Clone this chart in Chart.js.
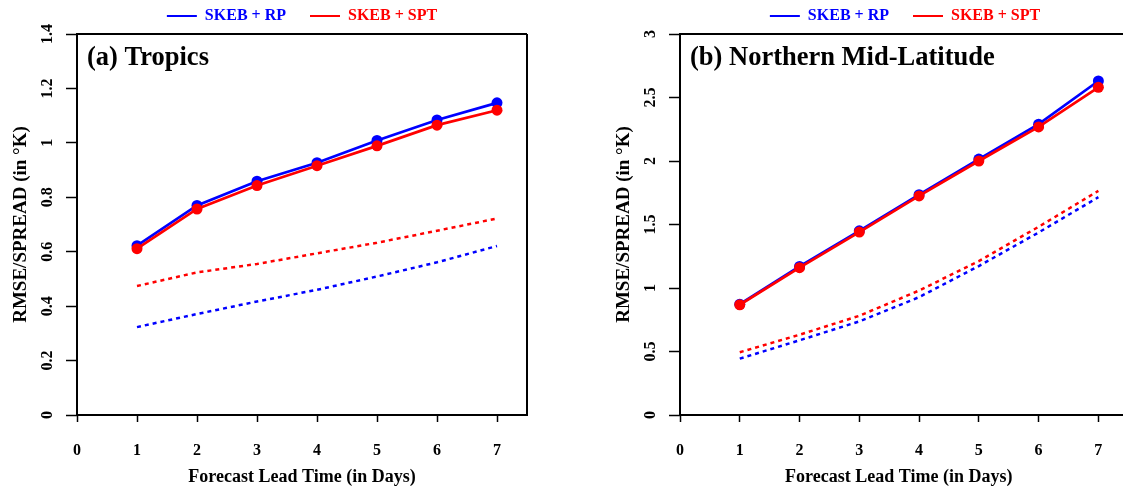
<!DOCTYPE html>
<html>
<head>
<meta charset="utf-8">
<script src="https://cdn.jsdelivr.net/npm/chart.js@4.4.1/dist/chart.umd.min.js"></script>
<style>
  html, body { margin: 0; padding: 0; background: #fff; overflow: hidden; }
  body { width: 1123px; height: 490px; position: relative; }
  canvas { position: absolute; top: 0; }
  #chartA { left: 0; }
  #chartB { left: 603px; }
</style>
</head>
<body>
<canvas id="chartA" width="604" height="490"></canvas>
<canvas id="chartB" width="520" height="490"></canvas>
<script>
// ---- data ----
const days = [1, 2, 3, 4, 5, 6, 7];
const xTicks = [0, 1, 2, 3, 4, 5, 6, 7];

const seriesNames = ["SKEB + RP", "SKEB + SPT"];
const seriesColors = ["#0000ff", "#ff0000"];

// (a) Tropics
const tropRmseRp    = [0.622, 0.770, 0.859, 0.927, 1.009, 1.084, 1.147];
const tropRmseSpt   = [0.611, 0.757, 0.843, 0.916, 0.989, 1.065, 1.120];
const tropSpreadRp  = [0.323, 0.371, 0.417, 0.460, 0.509, 0.561, 0.621];
const tropSpreadSpt = [0.474, 0.524, 0.555, 0.594, 0.633, 0.677, 0.722];
const tropYTicks    = [0, 0.2, 0.4, 0.6, 0.8, 1, 1.2, 1.4];

// (b) Northern Mid-Latitude
const nmlRmseRp    = [0.872, 1.170, 1.450, 1.735, 2.015, 2.290, 2.630];
const nmlRmseSpt   = [0.868, 1.160, 1.440, 1.725, 2.000, 2.268, 2.580];
const nmlSpreadRp  = [0.444, 0.588, 0.737, 0.928, 1.173, 1.437, 1.715];
const nmlSpreadSpt = [0.494, 0.632, 0.781, 0.980, 1.212, 1.482, 1.765];
const nmlYTicks    = [0, 0.5, 1, 1.5, 2, 2.5, 3];

const FONT = "'Liberation Serif', 'Times New Roman', serif";

const pts = (ys) => days.map((d, i) => ({ x: d, y: ys[i] }));

// box around plot + panel label inside
const framePlugin = {
  id: "frame",
  afterDraw(chart, args, opts) {
    const { ctx, chartArea: a } = chart;
    // when the box is cut by the page edge, run top/bottom lines to the canvas edge
    const r = opts.rightEdge ? a.right : chart.width;
    ctx.save();
    ctx.strokeStyle = "#000";
    ctx.lineWidth = 2;
    ctx.beginPath();
    ctx.moveTo(r, a.top);
    ctx.lineTo(a.left, a.top);
    ctx.lineTo(a.left, a.bottom);
    ctx.lineTo(r, a.bottom);
    if (opts.rightEdge) ctx.lineTo(r, a.top);
    ctx.stroke();
    ctx.fillStyle = "#000";
    ctx.font = "bold 26.5px " + FONT;
    ctx.textBaseline = "alphabetic";
    ctx.fillText(opts.label, a.left + 10, a.top + 31);
    ctx.restore();
  }
};

// cfg: xMax, rightPad (layout), rightAxis (width of empty right axis), rightEdge
function makeChart(id, label, rmse, spread, yMax, yTicks, cfg) {
  const solid = (ys, i) => ({
    label: seriesNames[i],
    data: pts(ys),
    borderColor: seriesColors[i],
    backgroundColor: seriesColors[i],
    borderWidth: 2.7,
    pointRadius: 5.5,
    pointBorderWidth: 0,
    pointHoverRadius: 5.5,
    order: i === 1 ? 0 : 1
  });
  const dashed = (ys, i) => ({
    label: seriesNames[i] + " spread",
    data: pts(ys),
    borderColor: seriesColors[i],
    borderWidth: 2.5,
    borderDash: [4, 4],
    pointRadius: 0,
    order: 2 + i
  });

  return new Chart(document.getElementById(id), {
    type: "line",
    data: {
      datasets: [
        solid(rmse[0], 0), solid(rmse[1], 1),
        dashed(spread[0], 0), dashed(spread[1], 1)
      ]
    },
    options: {
      responsive: false,
      devicePixelRatio: 1,
      animation: false,
      layout: { padding: { left: 0, top: 0, bottom: 0, right: cfg.rightPad } },
      plugins: {
        tooltip: { enabled: false },
        frame: { label, rightEdge: cfg.rightEdge },
        legend: {
          position: "top",
          onClick: null,
          labels: {
            boxWidth: 30,
            boxHeight: 2,
            padding: 8,
            font: { family: FONT, size: 16, weight: "bold" },
            // trailing spaces widen the gap between the two entries
            generateLabels: () => seriesNames.map((n, i) => ({
              text: i === 0 ? n + "    " : n,
              fillStyle: seriesColors[i],
              strokeStyle: seriesColors[i],
              lineWidth: 0,
              fontColor: seriesColors[i],
              hidden: false,
              datasetIndex: i
            }))
          }
        }
      },
      scales: {
        x: {
          type: "linear",
          min: 0,
          max: cfg.xMax,
          afterBuildTicks: (s) => { s.ticks = xTicks.map((v) => ({ value: v })); },
          afterFit: (s) => { s.height = 75; },
          ticks: {
            color: "#000",
            padding: 19,
            font: { family: FONT, size: 16, weight: "bold" },
            callback: (v) => String(v)
          },
          grid: { drawOnChartArea: false, drawTicks: true, tickLength: 7, tickWidth: 1.5, tickColor: "#000" },
          border: { display: false },
          title: {
            display: true,
            text: "Forecast Lead Time (in Days)",
            color: "#000",
            font: { family: FONT, size: 18, weight: "bold" },
            padding: { top: 0, bottom: 2 }
          }
        },
        y: {
          type: "linear",
          min: 0,
          max: yMax,
          afterBuildTicks: (s) => { s.ticks = yTicks.map((v) => ({ value: v })); },
          afterFit: (s) => { s.width = 77; },
          ticks: {
            color: "#000",
            minRotation: 90,
            maxRotation: 90,
            crossAlign: "center",
            padding: 8,
            font: { family: FONT, size: 16, weight: "bold" },
            callback: (v) => String(v)
          },
          grid: { drawOnChartArea: false, drawTicks: true, tickLength: 11, tickWidth: 1.5, tickColor: "#000" },
          border: { display: false },
          title: {
            display: true,
            text: "RMSE/SPREAD (in \u00B0K)",
            color: "#000",
            font: { family: FONT, size: 19, weight: "bold" },
            padding: { top: 10, bottom: 0 }
          }
        },
        // empty right-hand axis so the legend sits centred over the box
        yR: {
          position: "right",
          min: 0,
          max: 1,
          ticks: { display: false },
          grid: { display: false },
          border: { display: false },
          afterFit: (s) => { s.width = cfg.rightAxis; }
        }
      }
    },
    plugins: [framePlugin]
  });
}

makeChart("chartA", "(a) Tropics",
  [tropRmseRp, tropRmseSpt], [tropSpreadRp, tropSpreadSpt], 1.4, tropYTicks,
  { xMax: 7.5, rightPad: 0, rightAxis: 77, rightEdge: true });
// in the original the right panel is cut off by the page edge a little past day 7
makeChart("chartB", "(b) Northern Mid-Latitude",
  [nmlRmseRp, nmlRmseSpt], [nmlSpreadRp, nmlSpreadSpt], 3, nmlYTicks,
  { xMax: 7.32, rightPad: -84, rightAxis: 78, rightEdge: false });
</script>
</body>
</html>
